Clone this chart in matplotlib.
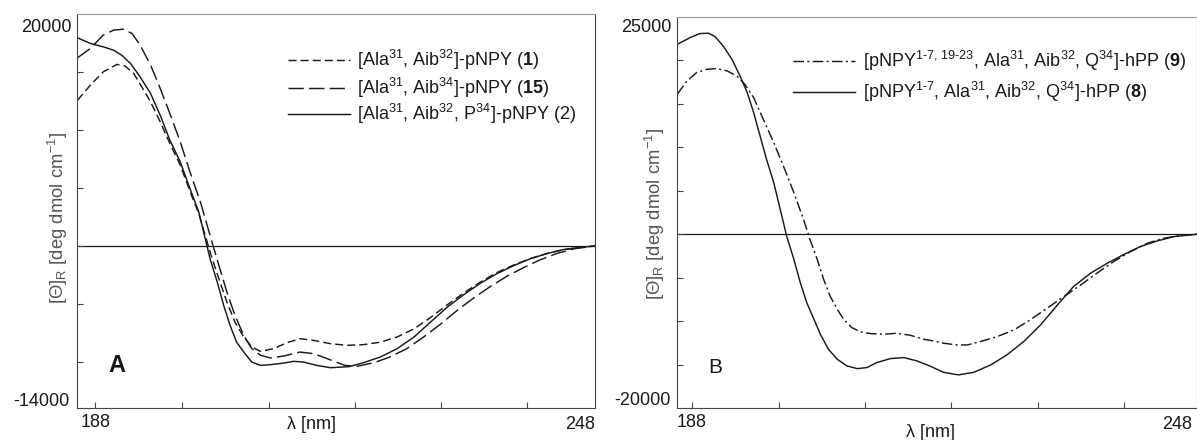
import matplotlib
matplotlib.use("Agg")
import matplotlib.pyplot as plt
from matplotlib.lines import Line2D

plt.rcParams['font.family'] = ['Liberation Sans', 'DejaVu Sans']
plt.rcParams['mathtext.fontset'] = 'custom'
plt.rcParams['mathtext.rm'] = 'Liberation Sans'
plt.rcParams['mathtext.it'] = 'Liberation Sans:italic'
plt.rcParams['mathtext.bf'] = 'Liberation Sans:bold'

# ---------------- data: panel A ----------------
wl_A1 = [185.8, 187.4, 189.0, 190.7, 191.7, 192.8, 193.8, 194.9, 196.1, 197.3, 198.6, 199.8,
         200.9, 201.7, 202.5, 203.4, 204.4, 205.4, 206.5, 207.5, 208.6, 210.2, 211.9, 213.5,
         215.2, 217.3, 219.4, 221.4, 223.5, 225.6, 227.7, 229.7, 231.8, 233.9, 236.0, 238.0,
         240.1, 242.2, 244.3, 246.3, 248.4, 250.3]
th_A1 = [12570, 13860, 15010, 15650, 15530, 14870, 13720, 12420, 10700, 8830, 6960, 4720,
         2790, 920, -950, -2820, -4830, -6560, -7850, -8710, -9090, -8860, -8340, -8000,
         -8140, -8430, -8570, -8510, -8300, -7850, -7150, -6200, -5100, -4050, -3100, -2300,
         -1650, -1080, -640, -320, -120, 0]

wl_A15 = [185.8, 187.4, 189.0, 190.3, 191.5, 192.6, 193.6, 194.9, 196.1, 197.3, 198.6, 199.8,
          201.1, 202.3, 203.4, 204.4, 205.4, 206.5, 207.5, 208.6, 209.8, 211.5, 213.5, 215.2,
          216.9, 219.1, 220.6, 222.7, 224.7, 226.8, 228.9, 231.0, 233.0, 235.1, 237.2, 239.3,
          241.4, 243.4, 245.5, 247.6, 250.3]
th_A15 = [16220, 17030, 18180, 18610, 18690, 18320, 17310, 15590, 13580, 11420, 8970, 6390,
          3800, 920, -1670, -3970, -5980, -7710, -8860, -9430, -9660, -9490, -9150, -9290,
          -9720, -10300, -10380, -10070, -9580, -8860, -7850, -6750, -5600, -4500, -3500, -2600,
          -1850, -1200, -650, -250, 0]

wl_A2 = [185.8, 187.4, 189.0, 190.3, 191.3, 192.4, 193.6, 194.9, 196.1, 197.3, 198.6, 199.8,
         200.9, 201.7, 202.3, 203.2, 204.0, 204.8, 205.6, 206.5, 207.5, 208.6, 209.8, 211.5,
         212.7, 213.9, 215.6, 217.3, 219.6, 221.4, 223.5, 225.6, 227.7, 229.7, 231.8, 233.9,
         236.0, 238.0, 240.1, 242.2, 244.3, 246.3, 248.4, 250.3]
th_A2 = [17950, 17460, 17170, 16880, 16450, 15730, 14580, 13140, 11270, 9120, 7250, 4950,
         2930, 630, -1090, -3110, -5120, -6850, -8280, -9150, -10010, -10300, -10240, -10100,
         -9950, -10010, -10300, -10500, -10410, -10070, -9580, -8860, -7850, -6600, -5300, -4200,
         -3200, -2400, -1700, -1100, -650, -320, -110, 0]

# ---------------- data: panel B ----------------
wl_B9 = [186.2, 187.4, 188.6, 189.9, 191.1, 192.4, 193.6, 194.6, 195.7, 196.9, 198.2, 199.4,
         200.7, 201.9, 202.7, 203.6, 204.4, 205.2, 206.1, 206.9, 207.9, 209.0, 210.2, 211.9,
         213.5, 215.2, 216.9, 218.3, 219.3, 221.0, 222.3, 223.9, 226.0, 228.1, 230.1, 232.2,
         234.3, 236.4, 238.4, 240.5, 242.6, 244.7, 246.7, 248.8, 250.8]
th_B9 = [16090, 17620, 18580, 18960, 19040, 18770, 18190, 17240, 15700, 13210, 10530, 7850,
         4790, 1720, -580, -2870, -5170, -7090, -8620, -9770, -10720, -11220, -11410, -11490,
         -11380, -11610, -12070, -12300, -12520, -12720, -12720, -12330, -11760, -10990, -9840, -8500,
         -7160, -5820, -4480, -3140, -1990, -1030, -460, -150, 0]

wl_B8 = [186.2, 187.8, 189.0, 190.1, 190.9, 191.9, 193.0, 194.0, 194.9, 195.7, 196.5, 197.3,
         198.2, 199.0, 199.8, 200.7, 201.5, 202.3, 203.2, 204.0, 205.0, 206.1, 207.3, 208.6,
         209.8, 211.0, 212.7, 214.4, 216.0, 217.7, 219.3, 221.2, 223.1, 225.2, 227.2, 229.3,
         231.4, 233.5, 235.5, 237.6, 239.7, 241.8, 243.8, 245.9, 248.0, 250.8]
th_B8 = [21830, 22600, 23060, 23100, 22710, 21640, 20110, 18190, 16280, 13980, 11300, 8620,
         5940, 2870, -190, -2870, -5550, -7850, -9770, -11490, -13210, -14360, -15130, -15440,
         -15320, -14750, -14290, -14170, -14550, -15170, -15860, -16160, -15860, -15010, -13870, -12330,
         -10420, -8120, -6010, -4480, -3330, -2300, -1420, -770, -270, 0]

labels_A = [r'[Ala$^{31}$, Aib$^{32}$]-pNPY ($\mathbf{1}$)',
            r'[Ala$^{31}$, Aib$^{34}$]-pNPY ($\mathbf{15}$)',
            r'[Ala$^{31}$, Aib$^{32}$, P$^{34}$]-pNPY (2)']
labels_B = [r'[pNPY$^{\text{1-7, 19-23}}$, Ala$^{31}$, Aib$^{32}$, Q$^{34}$]-hPP ($\mathbf{9}$)',
            r'[pNPY$^{\text{1-7}}$, Ala$^{31}$, Aib$^{32}$, Q$^{34}$]-hPP ($\mathbf{8}$)']

ylim_A = (-14000, 20000)
ylim_B = (-20000, 25000)
xlim_A = (185.7, 250.3)
xlim_B = (186.1, 250.8)
x_marks = [188, 198.8, 209.6, 220.3, 231.1, 241.8]
ylabel = r'[Θ]$_{\mathrm{R}}$ [deg dmol cm$^{-1}$]'

W, H = 1197, 440
fig = plt.figure(figsize=(W / 100, H / 100), dpi=100)
axA = fig.add_axes([76.7 / W, (H - 408.3) / H, 518.8 / W, 394.3 / H])
axB = fig.add_axes([676.5 / W, (H - 408.3) / H, 520.0 / W, 391.6 / H])

INK = '#1a1a1a'
PT = 0.72  # points per pixel at dpi 100
LW = 1.05
SHORT = (5.5, 2.8)
LONG = (10.5, 3.6)
DASHDOT = (7.2, 2.3, 1.4, 2.3)


def style(ax, xlim, ylim, yticks):
    ax.set_xlim(*xlim)
    ax.set_ylim(*ylim)
    ax.set_xticks(x_marks)
    ax.set_xticklabels([])
    ax.set_yticks(yticks)
    ax.set_yticklabels([])
    ax.tick_params(direction='in', length=4, width=0.8, color='#444')
    for s in ('left', 'bottom', 'right'):
        ax.spines[s].set_color('#444')
        ax.spines[s].set_linewidth(0.8)
    ax.spines['top'].set_color('#999')
    ax.spines['top'].set_linewidth(0.8)
    ax.axhline(0, color=INK, lw=0.9, zorder=1)


style(axA, xlim_A, ylim_A, [-10000, -5000, 0, 5000, 10000, 15000])
style(axB, xlim_B, ylim_B, [-15000, -10000, -5000, 0, 5000, 10000, 15000, 20000])

# curves
axA.plot(wl_A1, th_A1, color=INK, lw=LW, dashes=SHORT)
axA.plot(wl_A15, th_A15, color=INK, lw=LW, dashes=LONG)
axA.plot(wl_A2, th_A2, color=INK, lw=LW)
axB.plot(wl_B9, th_B9, color=INK, lw=LW, dashes=DASHDOT)
axB.plot(wl_B8, th_B8, color=INK, lw=LW)


def ylab(ax, val, text, dy_px, dx_px):
    ax.annotate(text, xy=(0, val), xycoords=('axes fraction', 'data'),
                xytext=(dx_px * PT, dy_px * PT), textcoords='offset points',
                ha='right', va='center', fontsize=13, color=INK)


def xlab(ax, val, text, dy_px, dx_px=0):
    ax.annotate(text, xy=(val, 0), xycoords=('data', 'axes fraction'),
                xytext=(dx_px * PT, dy_px * PT), textcoords='offset points',
                ha='center', va='center', fontsize=13, color=INK)


ylab(axA, 20000, '20000', -13, -5)
ylab(axA, -14000, '-14000', 6.6, -7)
ylab(axB, 25000, '25000', -11, -5)
ylab(axB, -20000, '-20000', 8, -6)
xlab(axA, 188, '188', -13.7)
xlab(axA, 248, '248', -16, 3)
xlab(axB, 188, '188', -13.7)
xlab(axB, 248, '248', -16, 3)

axA.text(0.4535, -16 / 394.3, r'λ [nm]', transform=axA.transAxes, ha='center', va='center',
         fontsize=13, color=INK)
axB.text(0.4875, -24 / 391.6, r'λ [nm]', transform=axB.transAxes, ha='center', va='center',
         fontsize=13, color=INK)

fig.text(58 / W, 1 - 218 / H, ylabel, rotation=90, ha='center', va='center', fontsize=13.3,
         color='#555')
fig.text(655 / W, 1 - 214 / H, ylabel, rotation=90, ha='center', va='center', fontsize=13.3,
         color='#555')

fig.text(116.7 / W, 1 - 365 / H, 'A', ha='center', va='center', fontsize=17, fontweight='bold',
         color=INK)
fig.text(715 / W, 1 - 367 / H, 'B', ha='center', va='center', fontsize=15, color=INK)

# legends (drawn by hand)
legA_y = [60, 88, 114]
legA_dash = [SHORT, LONG, None]
for y, d, lab in zip(legA_y, legA_dash, labels_A):
    ln = Line2D([288 / W, 350 / W], [1 - y / H, 1 - y / H], transform=fig.transFigure,
                color=INK, lw=LW)
    if d is not None:
        ln.set_dashes(d)
    fig.add_artist(ln)
    fig.text(357 / W, 1 - y / H, lab, ha='left', va='center', fontsize=13, color=INK)

legB_y = [61, 92]
legB_dash = [DASHDOT, None]
for y, d, lab in zip(legB_y, legB_dash, labels_B):
    ln = Line2D([793 / W, 855 / W], [1 - y / H, 1 - y / H], transform=fig.transFigure,
                color=INK, lw=LW)
    if d is not None:
        ln.set_dashes(d)
    fig.add_artist(ln)
    fig.text(863 / W, 1 - y / H, lab, ha='left', va='center', fontsize=13, color=INK)

fig.savefig('out.png', dpi=100)
